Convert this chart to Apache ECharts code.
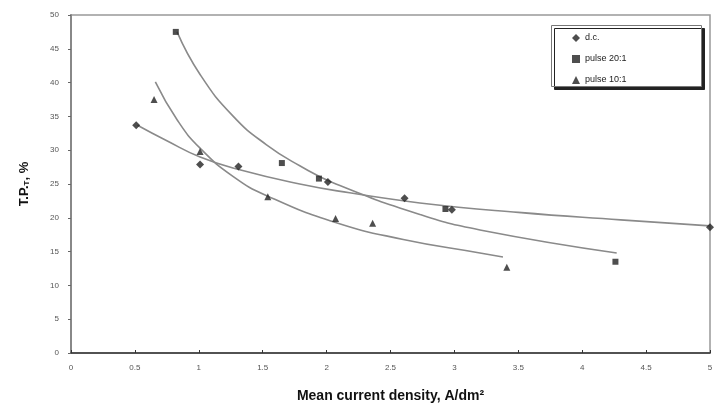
<!DOCTYPE html>
<html><head><meta charset="utf-8">
<script src="https://cdn.jsdelivr.net/npm/echarts@6/dist/echarts.min.js"></script>
<style>html,body{margin:0;padding:0;background:#fff}#c{width:718px;height:412px}</style>
</head><body><div id="c"></div>
<script>
// ---- data ----
const seriesNames = ['d.c.', 'pulse 20:1', 'pulse 10:1'];
const dcPoints = [[0.51,33.7],[1.01,27.9],[1.31,27.6],[2.01,25.3],[2.61,22.9],[2.98,21.2],[5.0,18.6]];
const pulse20Points = [[0.82,47.5],[1.65,28.1],[1.94,25.8],[2.93,21.3],[4.26,13.5]];
const pulse10Points = [[0.65,37.5],[1.01,29.8],[1.54,23.1],[2.07,19.9],[2.36,19.2],[3.41,12.7]];
// trend curves
const dcTrend = [[0.52,33.7],[0.75,31.4],[1.01,29.0],[1.32,27.1],[1.79,25.0],[2.18,23.7],[2.73,22.2],[3.5,20.8],[4.3,19.7],[5.0,18.8]];
const pulse20Trend = [[0.83,47.5],[1.01,41.2],[1.27,35.0],[1.53,30.8],[1.79,27.7],[2.05,25.2],[2.73,20.5],[3.2,18.2],[4.27,14.8]];
const pulse10Trend = [[0.66,40.1],[0.83,34.5],[1.01,30.3],[1.27,26.1],[1.54,23.2],[2.07,19.3],[2.6,16.8],[3.2,14.8],[3.38,14.2]];
const xTicks = {min:0, max:5, step:0.5};
const yTicks = {min:0, max:50, step:5};

const chart = echarts.init(document.getElementById('c'), null, {renderer:'canvas'});
const ptColor = '#222';
const lineColor = '#8a8a8a';
const lbl = {fontFamily:'Liberation Sans, Arial, sans-serif', fontSize:8, color:'#555'};
function trend(data){
  return {type:'line', data:data, smooth:true, showSymbol:false, symbol:'none', silent:true,
    lineStyle:{color:lineColor, width:1.6}, z:2};
}
function pts(name, data, symbol, size){
  return {type:'scatter', name:name, data:data, symbol:symbol, symbolSize:size,
    itemStyle:{color:ptColor}, z:5};
}
chart.setOption({
  animation:false,
  backgroundColor:'#fff',
  grid:{left:71, right:8, top:15, bottom:59, show:true, borderColor:'#999', borderWidth:1.5},
  xAxis:{type:'value', min:xTicks.min, max:xTicks.max, interval:xTicks.step,
    name:'Mean current density, A/dm²', nameLocation:'middle', nameGap:36,
    nameTextStyle:{fontFamily:'Liberation Sans, Arial, sans-serif', fontSize:14, fontWeight:'bold', color:'#111'},
    axisLine:{lineStyle:{color:'#333', width:1.5}},
    axisTick:{show:true, length:3, inside:true, lineStyle:{color:'#333'}},
    axisLabel:Object.assign({margin:11, formatter:v=>String(v)}, lbl),
    splitLine:{show:false}},
  yAxis:{type:'value', min:yTicks.min, max:yTicks.max, interval:yTicks.step,
    name:'{a|T.P.}{s|T}{a|, %}', nameLocation:'middle', nameGap:40, nameRotate:90,
    nameTextStyle:{rich:{
      a:{fontFamily:'Liberation Sans, Arial, sans-serif', fontSize:13, fontWeight:'bold', color:'#111'},
      s:{fontFamily:'Liberation Sans, Arial, sans-serif', fontSize:8, fontWeight:'bold', color:'#111', padding:[6,0,0,0]}}},
    axisLine:{lineStyle:{color:'#888', width:2}},
    axisTick:{show:true, length:3, lineStyle:{color:'#666'}},
    axisLabel:Object.assign({margin:12}, lbl),
    splitLine:{show:false}},
  legend:{data:seriesNames, orient:'vertical', left:567, top:27, itemGap:9,
    itemWidth:8, itemHeight:8, textStyle:{fontFamily:'Liberation Sans, Arial, sans-serif', fontSize:9, color:'#222', lineHeight:12}},
  graphic:[{type:'rect', left:551, top:25, z:-1, shape:{width:150, height:61},
    style:{fill:'#fff', stroke:'#777', lineWidth:1, shadowColor:'#222', shadowOffsetX:3, shadowOffsetY:3, shadowBlur:0}}],
  series:[
    trend(dcTrend), trend(pulse20Trend), trend(pulse10Trend),
    pts(seriesNames[0], dcPoints, 'diamond', 8),
    pts(seriesNames[1], pulse20Points, 'rect', 6),
    pts(seriesNames[2], pulse10Points, 'triangle', 7)
  ]
});
</script></body></html>
